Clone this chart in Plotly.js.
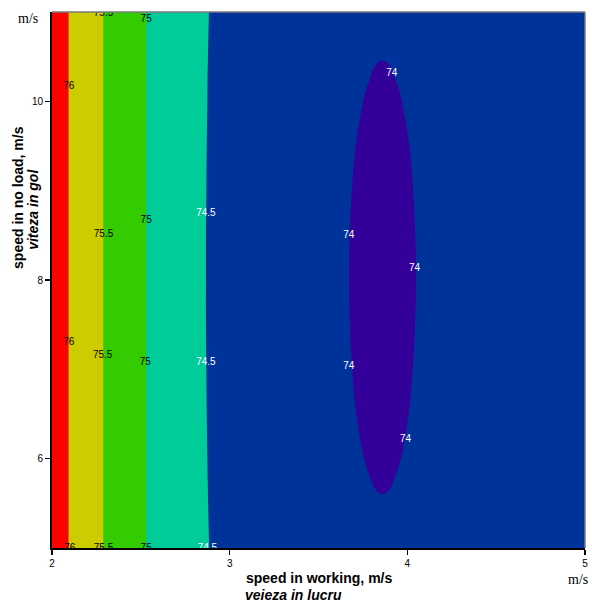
<!DOCTYPE html>
<html>
<head>
<meta charset="utf-8">
<script src="https://cdn.plot.ly/plotly-3.0.1.min.js"></script>
<style>
html,body{margin:0;padding:0;background:#fff;}
#chart{width:592px;height:603px;}
</style>
</head>
<body>
<div id="chart"></div>
<script>
// speed in working (m/s) grid
var xSpeedWork = [2.0, 2.1, 2.2, 2.3, 2.4, 2.5, 2.6, 2.8, 3.0, 3.3, 3.56, 3.66, 3.71, 3.76, 3.81, 3.86, 3.91, 3.96, 4.01, 4.06, 4.16, 4.4, 4.7, 5.0];
// speed in no load (m/s) grid
var ySpeedNoLoad = [5.0, 5.5, 5.75, 6.0, 6.5, 7.0, 7.5, 8.0, 8.5, 9.0, 9.5, 10.0, 10.25, 10.5, 11.0];
// response values (one row per ySpeedNoLoad value, one column per xSpeedWork value)
var zRow05_00 = [76.28,75.98,75.73,75.47,75.24,75.05,74.88,74.576,74.396,74.196,74.216,74.167,74.118,74.084,74.063,74.056,74.063,74.084,74.118,74.167,74.226,74.228,74.328,74.428];
var zRow05_50 = [76.28,75.98,75.73,75.47,75.24,75.05,74.88,74.571,74.391,74.191,74.168,74.119,74.070,74.036,74.015,74.008,74.015,74.036,74.070,74.119,74.178,74.204,74.304,74.404];
var zRow05_75 = [76.28,75.98,75.73,75.47,75.24,75.05,74.88,74.569,74.389,74.189,74.148,74.099,74.050,74.016,73.995,73.988,73.995,74.016,74.050,74.099,74.158,74.194,74.294,74.394];
var zRow06_00 = [76.28,75.98,75.73,75.47,75.24,75.05,74.88,74.567,74.387,74.187,74.130,74.081,74.032,73.998,73.977,73.970,73.977,73.998,74.032,74.081,74.140,74.185,74.285,74.385];
var zRow06_50 = [76.28,75.98,75.73,75.47,75.24,75.05,74.88,74.564,74.384,74.184,74.100,74.051,74.002,73.968,73.947,73.940,73.947,73.968,74.002,74.051,74.110,74.170,74.270,74.370];
var zRow07_00 = [76.28,75.98,75.73,75.47,75.24,75.05,74.88,74.562,74.382,74.182,74.078,74.029,73.980,73.946,73.925,73.918,73.925,73.946,73.980,74.029,74.088,74.159,74.259,74.359];
var zRow07_50 = [76.28,75.98,75.73,75.47,75.24,75.05,74.88,74.560,74.380,74.180,74.065,74.016,73.967,73.933,73.912,73.905,73.912,73.933,73.967,74.016,74.075,74.152,74.252,74.352];
var zRow08_00 = [76.28,75.98,75.73,75.47,75.24,75.05,74.88,74.560,74.380,74.180,74.060,74.011,73.962,73.928,73.907,73.900,73.907,73.928,73.962,74.011,74.070,74.150,74.250,74.350];
var zRow08_50 = [76.28,75.98,75.73,75.47,75.24,75.05,74.88,74.560,74.380,74.180,74.064,74.015,73.966,73.932,73.911,73.904,73.911,73.932,73.966,74.015,74.074,74.152,74.252,74.352];
var zRow09_00 = [76.28,75.98,75.73,75.47,75.24,75.05,74.88,74.562,74.382,74.182,74.076,74.027,73.978,73.944,73.923,73.916,73.923,73.944,73.978,74.027,74.086,74.158,74.258,74.358];
var zRow09_50 = [76.28,75.98,75.73,75.47,75.24,75.05,74.88,74.564,74.384,74.184,74.097,74.048,73.999,73.965,73.944,73.937,73.944,73.965,73.999,74.048,74.107,74.168,74.268,74.368];
var zRow10_00 = [76.28,75.98,75.73,75.47,75.24,75.05,74.88,74.567,74.387,74.187,74.126,74.077,74.028,73.994,73.973,73.966,73.973,73.994,74.028,74.077,74.136,74.183,74.283,74.383];
var zRow10_25 = [76.28,75.98,75.73,75.47,75.24,75.05,74.88,74.568,74.388,74.188,74.144,74.095,74.046,74.012,73.991,73.984,73.991,74.012,74.046,74.095,74.154,74.192,74.292,74.392];
var zRow10_50 = [76.28,75.98,75.73,75.47,75.24,75.05,74.88,74.570,74.390,74.190,74.163,74.114,74.065,74.031,74.010,74.003,74.010,74.031,74.065,74.114,74.173,74.202,74.302,74.402];
var zRow11_00 = [76.28,75.98,75.73,75.47,75.24,75.05,74.88,74.575,74.395,74.195,74.209,74.160,74.111,74.077,74.056,74.049,74.056,74.077,74.111,74.160,74.219,74.225,74.325,74.425];

// contour label positions
var darkLabelText = ['76','76','76','75.5','75.5','75.5','75.5','75','75','75','75'];
var darkLabelX    = [2.094,2.094,2.10,2.29,2.29,2.285,2.29,2.53,2.53,2.525,2.53];
var darkLabelY    = [10.17,7.30,4.99,10.98,8.51,7.16,4.99,10.92,8.67,7.08,4.99];
var lightLabelText = ['74.5','74.5','74.5','74','74','74','74','74'];
var lightLabelX    = [2.866,2.866,2.875,3.912,3.67,4.04,3.67,3.99];
var lightLabelY    = [8.74,7.08,4.99,10.31,8.50,8.13,7.03,6.22];

var xTickVals = [2, 3, 4, 5];
var yTickVals = [6, 8, 10];

var zGrid = [zRow05_00,zRow05_50,zRow05_75,zRow06_00,zRow06_50,zRow07_00,zRow07_50,zRow08_00,
             zRow08_50,zRow09_00,zRow09_50,zRow10_00,zRow10_25,zRow10_50,zRow11_00];

var traces = [
  {
    type: 'contour',
    x: xSpeedWork,
    y: ySpeedNoLoad,
    z: zGrid,
    showscale: false,
    hoverinfo: 'skip',
    contours: {start: 74, end: 76, size: 0.5, coloring: 'fill', showlines: false},
    line: {width: 0, smoothing: 1.3},
    colorscale: [[0,'#330099'],[0.2,'#003399'],[0.4,'#00CC99'],[0.6,'#33CC00'],[0.8,'#CCCC00'],[1,'#FF0000']]
  },
  {
    type: 'scatter', mode: 'text', x: darkLabelX, y: darkLabelY, text: darkLabelText,
    textfont: {family: 'Liberation Sans, Arial, sans-serif', size: 10, color: '#000000'},
    cliponaxis: true, hoverinfo: 'skip', showlegend: false
  },
  {
    type: 'scatter', mode: 'text', x: lightLabelX, y: lightLabelY, text: lightLabelText,
    textfont: {family: 'Liberation Sans, Arial, sans-serif', size: 10, color: '#ffffff'},
    cliponaxis: true, hoverinfo: 'skip', showlegend: false
  }
];

var tickFont = {family: 'Liberation Sans, Arial, sans-serif', size: 10, color: '#000'};
var layout = {
  width: 592, height: 603,
  margin: {l: 52, r: 7, t: 12, b: 55, pad: 0},
  paper_bgcolor: '#ffffff', plot_bgcolor: '#ffffff',
  showlegend: false,
  xaxis: {
    range: [2, 5], tickvals: xTickVals, ticks: 'outside', ticklen: 5, tickwidth: 1.5, tickcolor: '#000',
    showline: true, linecolor: '#000', linewidth: 2, showgrid: false, zeroline: false,
    tickfont: tickFont, fixedrange: true
  },
  yaxis: {
    range: [5, 11], tickvals: yTickVals, ticks: 'outside', ticklen: 5, tickwidth: 1.5, tickcolor: '#000',
    showline: true, linecolor: '#000', linewidth: 2, showgrid: false, zeroline: false,
    tickfont: tickFont, fixedrange: true
  },
  shapes: [
    {type: 'line', xref: 'paper', yref: 'paper', x0: 0, x1: 1, y0: 1, y1: 1, line: {color: '#7a7a7a', width: 1.5}},
    {type: 'line', xref: 'paper', yref: 'paper', x0: 1, x1: 1, y0: 0, y1: 1, line: {color: '#7a7a7a', width: 1.5}}
  ],
  annotations: [
    {text: 'm/s', xref: 'paper', yref: 'paper', x: -0.045, y: 0.987, xanchor: 'center', yanchor: 'middle', showarrow: false,
     font: {family: 'Liberation Serif, Times New Roman, serif', size: 14, color: '#000'}},
    {text: 'm/s', xref: 'paper', yref: 'paper', x: 0.987, y: -0.0597, xanchor: 'center', yanchor: 'middle', showarrow: false,
     font: {family: 'Liberation Serif, Times New Roman, serif', size: 14, color: '#000'}},
    {text: '<b>speed in working, m/s</b>', xref: 'paper', yref: 'paper', x: 0.5, y: -0.056, xanchor: 'center', yanchor: 'middle', showarrow: false,
     font: {family: 'Liberation Sans, Arial, sans-serif', size: 14, color: '#000'}},
    {text: '<b><i>veieza in lucru</i></b>', xref: 'paper', yref: 'paper', x: 0.358, y: -0.0877, xanchor: 'left', yanchor: 'middle', showarrow: false,
     font: {family: 'Liberation Sans, Arial, sans-serif', size: 14, color: '#000'}},
    {text: '<b>speed in no load, m/s</b>', xref: 'paper', yref: 'paper', x: -0.0638, y: 0.655, xanchor: 'center', yanchor: 'middle', showarrow: false, textangle: -90,
     font: {family: 'Liberation Sans, Arial, sans-serif', size: 14, color: '#000'}},
    {text: '<b><i>viteza in gol</i></b>', xref: 'paper', yref: 'paper', x: -0.0356, y: 0.631, xanchor: 'center', yanchor: 'middle', showarrow: false, textangle: -90,
     font: {family: 'Liberation Sans, Arial, sans-serif', size: 14, color: '#000'}}
  ]
};

Plotly.newPlot('chart', traces, layout, {displayModeBar: false, staticPlot: true});
</script>
</body>
</html>
